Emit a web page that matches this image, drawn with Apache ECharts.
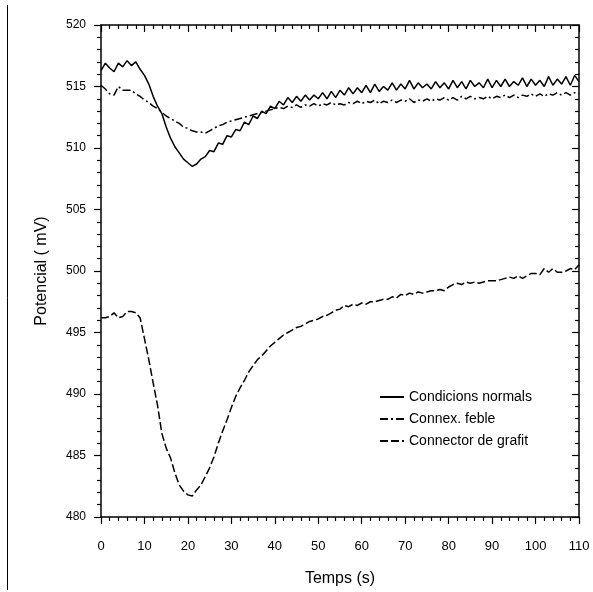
<!DOCTYPE html>
<html>
<head>
<meta charset="utf-8">
<script src="https://cdn.jsdelivr.net/npm/echarts@6/dist/echarts.min.js"></script>
<style>html,body{margin:0;padding:0;background:#fff;}#c{width:593px;height:592px;}</style>
</head>
<body>
<div id="c"></div>
<script>
// Time axis (s), sampled every 1 s
const times = [];
for (let t = 0; t <= 110; t++) times.push(t);

const seriesNames = ['Condicions normals', 'Connex. feble', 'Connector de grafit'];

const normals = [
516.3,516.9,516.5,516.2,516.9,516.6,517.1,516.7,517.0,516.4,
515.9,515.2,514.2,513.4,512.8,511.7,510.8,510.1,509.6,509.1,
508.8,508.5,508.7,509.1,509.3,509.8,509.7,510.4,510.3,511.0,
510.9,511.5,511.4,512.1,511.9,512.6,512.4,513.0,512.8,513.4,
513.2,513.8,513.5,514.1,513.7,514.2,513.8,514.3,513.9,514.3,
514.0,514.5,514.0,514.6,514.1,514.7,514.3,514.9,514.4,514.9,
514.5,515.1,514.5,515.2,514.6,515.0,514.7,515.3,514.7,515.2,
514.8,515.5,514.8,515.3,514.9,515.2,514.8,515.4,514.9,515.3,
514.8,515.5,514.9,515.4,514.8,515.5,515.0,515.3,514.9,515.6,
514.9,515.5,515.0,515.6,515.0,515.4,515.1,515.7,515.0,515.6,
515.1,515.5,515.0,515.8,515.1,515.6,515.2,515.8,515.1,515.9,
515.4];

const feble = [
515.1,514.8,514.4,514.3,515.0,514.7,514.7,514.7,514.4,514.2,
513.9,513.7,513.4,513.2,512.9,512.6,512.4,512.2,512.0,511.7,
511.6,511.4,511.3,511.3,511.2,511.4,511.6,511.8,511.9,512.1,
512.2,512.3,512.4,512.5,512.6,512.7,512.8,512.9,513.0,513.1,
513.2,513.3,513.2,513.4,513.3,513.5,513.3,513.5,513.4,513.6,
513.4,513.6,513.5,513.7,513.5,513.6,513.5,513.7,513.6,513.8,
513.6,513.8,513.7,513.9,513.6,513.8,513.7,513.9,513.7,513.9,
513.8,514.0,513.7,513.9,513.8,514.0,513.8,514.0,513.9,514.1,
513.9,514.1,513.9,514.2,514.0,514.2,514.0,514.1,514.0,514.2,
514.0,514.2,514.1,514.3,514.1,514.3,514.1,514.3,514.2,514.4,
514.2,514.4,514.2,514.4,514.3,514.5,514.3,514.5,514.3,514.5,
514.4];

const grafit = [
496.2,496.2,496.3,496.6,496.2,496.3,496.7,496.7,496.6,496.2,
494.5,492.8,490.9,489.1,486.8,485.6,484.8,483.6,482.6,482.1,
481.8,481.7,482.2,482.6,483.3,484.0,484.9,486.0,487.0,487.9,
488.9,489.8,490.5,491.1,491.8,492.3,492.8,493.1,493.5,493.9,
494.2,494.5,494.8,495.0,495.2,495.4,495.5,495.7,495.9,496.0,
496.1,496.3,496.4,496.6,496.8,496.9,497.2,497.1,497.3,497.2,
497.4,497.3,497.5,497.5,497.6,497.7,497.7,497.9,497.8,498.1,
498.0,498.2,498.1,498.3,498.2,498.3,498.4,498.4,498.5,498.4,
498.7,498.9,499.0,498.9,499.1,499.0,499.1,499.0,499.1,499.2,
499.2,499.2,499.3,499.4,499.5,499.4,499.6,499.4,499.6,499.8,
499.8,499.7,500.2,499.9,500.2,499.9,499.9,500.0,500.2,500.1,
500.5];

const xName = 'Temps (s)';
const yName = 'Potencial ( mV)';

const font = 'Arial, "Liberation Sans", sans-serif';
const pair = arr => times.map((t, i) => [t, arr[i]]);

const chart = echarts.init(document.getElementById('c'), null, {renderer: 'canvas'});

const axisLine = {show: true, onZero: false, lineStyle: {color: '#000', width: 1.5}};
const tickStyle = {color: '#000', width: 1.2};

chart.setOption({
  animation: false,
  backgroundColor: '#fff',
  grid: {left: 101, right: 14, top: 25, bottom: 75, containLabel: false},
  graphic: [{
    type: 'line', shape: {x1: 7.5, y1: 5, x2: 7.5, y2: 590},
    style: {stroke: '#000', lineWidth: 1}
  }],
  legend: {
    orient: 'vertical', left: 374, top: 385, itemGap: 8,
    itemWidth: 24, itemHeight: 14,
    itemStyle: {opacity: 0},
    textStyle: {fontFamily: font, fontSize: 14, color: '#000'},
    data: seriesNames
  },
  xAxis: [{
    type: 'value', min: 0, max: 110, interval: 10, position: 'bottom',
    name: xName, nameLocation: 'middle', nameGap: 54,
    nameTextStyle: {fontFamily: font, fontSize: 16, color: '#000'},
    axisLine: axisLine,
    axisTick: {show: true, inside: false, length: 7, lineStyle: tickStyle},
    minorTick: {show: true, splitNumber: 5, length: 4, lineStyle: tickStyle},
    axisLabel: {margin: 23, fontFamily: font, fontSize: 13, color: '#000'},
    splitLine: {show: false}
  }, {
    type: 'value', min: 0, max: 110, interval: 10, position: 'top',
    axisLine: axisLine,
    axisTick: {show: true, inside: true, length: 7, lineStyle: tickStyle},
    minorTick: {show: true, splitNumber: 5, length: 4, lineStyle: tickStyle},
    axisLabel: {show: false},
    splitLine: {show: false}
  }],
  yAxis: [{
    type: 'value', min: 480, max: 520, interval: 5, position: 'left',
    name: yName, nameLocation: 'middle', nameGap: 51, nameRotate: 90,
    nameTextStyle: {fontFamily: font, fontSize: 16, color: '#000'},
    axisLine: axisLine,
    axisTick: {show: true, inside: false, length: 7, lineStyle: tickStyle},
    minorTick: {show: true, splitNumber: 5, length: 4, lineStyle: tickStyle},
    axisLabel: {margin: 15, fontFamily: font, fontSize: 12, color: '#000'},
    splitLine: {show: false}
  }, {
    type: 'value', min: 480, max: 520, interval: 5, position: 'right',
    axisLine: axisLine,
    axisTick: {show: true, inside: true, length: 7, lineStyle: tickStyle},
    minorTick: {show: true, splitNumber: 5, length: 4, lineStyle: tickStyle},
    axisLabel: {show: false},
    splitLine: {show: false}
  }],
  series: [{
    name: seriesNames[0], type: 'line', data: pair(normals),
    symbol: 'none', xAxisIndex: 0, yAxisIndex: 0,
    lineStyle: {color: '#000', width: 1.5, type: 'solid'},
    itemStyle: {color: '#000'}
  }, {
    name: seriesNames[1], type: 'line', data: pair(feble),
    symbol: 'none', xAxisIndex: 0, yAxisIndex: 0,
    lineStyle: {color: '#000', width: 1.5, type: [8, 3, 2, 3]},
    itemStyle: {color: '#000'}
  }, {
    name: seriesNames[2], type: 'line', data: pair(grafit),
    symbol: 'none', xAxisIndex: 0, yAxisIndex: 0,
    lineStyle: {color: '#000', width: 1.5, type: [8, 3]},
    itemStyle: {color: '#000'}
  }]
});
</script>
</body>
</html>
